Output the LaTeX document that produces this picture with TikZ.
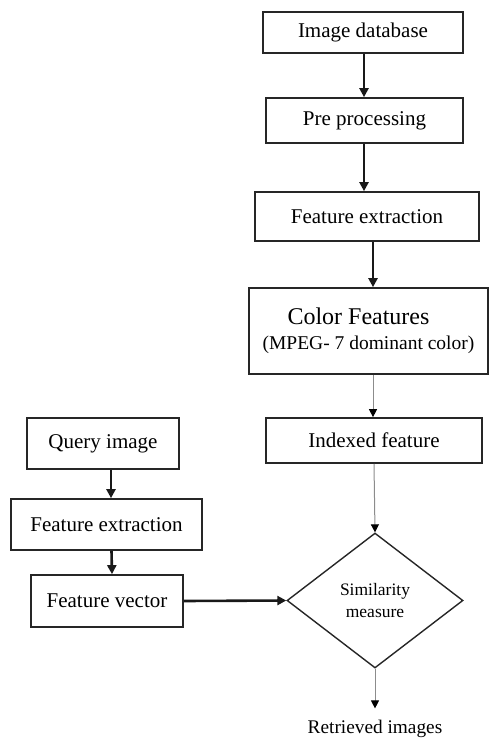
\documentclass[tikz,border=0pt]{standalone}
\usepackage{fontspec}
\setmainfont{Liberation Serif}
\usetikzlibrary{shapes.geometric,arrows.meta}
\begin{document}
\begin{tikzpicture}[x=1pt,y=-1pt,
  box/.style={draw=black!85,line width=1.7pt,fill=white,inner sep=0pt,font=\fontsize{21}{24}\selectfont},
  thickarr/.style={draw=black!90,line width=2.6pt,-{Triangle[length=9pt,width=9pt]}},
  thinarr/.style={draw=black!45,line width=1pt,-{Triangle[length=8pt,width=8pt,fill=black,color=black]}}]
\useasboundingbox (0,0) rectangle (490,738);
\node[box,minimum width=200pt,minimum height=41pt] (db) at (363,32.5) {Image database};
\node[box,minimum width=197pt,minimum height=45pt] (pre) at (364.5,120.5) {Pre processing};
\node[box,minimum width=224pt,minimum height=49pt] (fe) at (367,216.5) {Feature extraction};
\node[box,minimum width=239pt,minimum height=86pt,align=center] (cf) at (368.5,331)
  {{\fontsize{24}{27}\selectfont Color Features\hspace*{20pt}}\\[1pt]{\fontsize{19.5}{22}\selectfont (MPEG- 7 dominant color)}};
\node[box,minimum width=216pt,minimum height=45pt] (idx) at (374,440.5) {Indexed feature};
\node[draw=black!85,line width=1.4pt,diamond,minimum width=176pt,minimum height=135pt,inner sep=0pt,align=center,font=\fontsize{17.5}{22}\selectfont] (sim) at (375,600.5) {Similarity\\measure};
\node[anchor=base,inner sep=0pt,font=\fontsize{19.3}{22}\selectfont] (ret) at (375,733) {Retrieved images};
\node[box,minimum width=152pt,minimum height=51pt] (q) at (103,443.5) {Query image};
\node[box,minimum width=191pt,minimum height=51pt] (fe2) at (106.5,524.5) {Feature extraction};
\node[box,minimum width=152pt,minimum height=52pt] (fv) at (107,601) {Feature vector};
\draw[thickarr] ([xshift=1pt]db.south) -- ([xshift=-0.5pt]pre.north);
\draw[thickarr] ([xshift=-0.5pt]pre.south) -- ([xshift=-3pt]fe.north);
\draw[thickarr] ([xshift=6pt]fe.south) -- ([xshift=4.5pt]cf.north);
\draw[thinarr] ([xshift=4.5pt]cf.south) -- ([xshift=-1pt]idx.north);
\draw[thinarr] (idx.south) -- (sim.north);
\draw[thinarr] (sim.south) -- (ret.north) [shorten >=11pt];
\draw[thickarr] ([xshift=8pt]q.south) -- ([xshift=4.5pt]fe2.north);
\draw[thickarr] ([xshift=5pt]fe2.south) -- ([xshift=5pt]fv.north);
\draw[thickarr] (fv.east) -- (sim.west);
\end{tikzpicture}
\end{document}
